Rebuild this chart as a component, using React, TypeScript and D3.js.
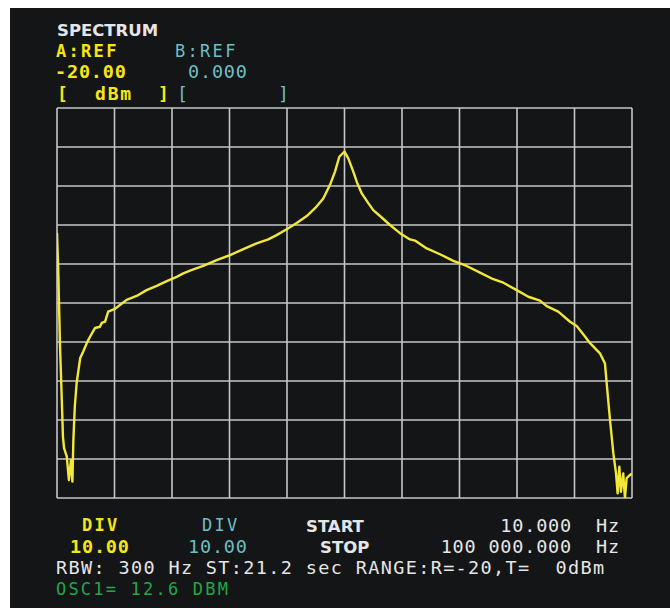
import React from "react";
import * as d3 from "d3";

// trace: frequency (Hz) and level (dBm)
const freqHz = [
  10, 10.2, 10.5, 10.8, 11.0, 11.2, 11.7, 12.1, 12.5, 12.8, 13.0, 13.3, 13.7, 14.5, 15.2, 16.1, 17.0,
  18.4, 19.9, 20.5, 21.6, 22.7, 25.3, 27.4, 30.5, 35.8, 42.0, 49.4, 58.0, 68.0, 75.6, 84.2, 104, 129,
  160, 198, 245, 295, 337, 396, 465, 546, 624, 712, 793, 859, 920, 1000, 1062, 1151, 1216, 1318, 1464,
  1585, 1766, 2073, 2432, 2856, 3091, 3732, 4616, 5711, 7079, 8764, 10840, 12740, 15780, 19010, 22910,
  25510, 30690, 37070, 41230, 47100, 51050, 59840, 64860, 66670, 70310, 74130, 77450, 79430, 81660,
  83750, 86900, 89330, 91830, 96830, 100000,
];
const levelDbm = [
  -52.0, -61.5, -81.2, -94.9, -104.3, -107.2, -109.4, -115.4, -110.3, -115.8, -105.1, -96.6, -90.5,
  -84.1, -82.5, -80.3, -78.6, -76.4, -76.1, -75.1, -74.8, -72.2, -71.5, -70.5, -69.2, -68.2, -66.7,
  -65.6, -64.4, -63.3, -62.4, -61.7, -60.5, -59.0, -57.7, -56.2, -54.7, -53.7, -52.6, -51.1, -49.5,
  -47.7, -45.7, -43.2, -39.7, -36.3, -32.5, -31.2, -32.9, -36.3, -38.9, -41.9, -44.4, -46.2, -47.7,
  -50.0, -52.1, -53.7, -54.0, -56.0, -57.5, -59.2, -60.5, -62.2, -63.9, -64.8, -66.7, -68.4, -69.4,
  -70.8, -72.2, -74.8, -75.9, -78.6, -80.3, -82.9, -85.5, -90.6, -100.0, -108.5, -113.7, -118.8,
  -112.0, -118.4, -113.7, -120.0, -114.9, -114.1, -113.7,
];

const startHz = 10;
const stopHz = 100000;
const refA = -20;
const divA = 10;
const divisions = d3.range(0, 11);

const W = 670;
const H = 608;
const plot = { left: 57, right: 632, top: 108, bottom: 498 };

const YEL = "#f6e616";
const CYN = "#6cbfc3";
const WHT = "#e6e6e6";
const GRN = "#1fa847";
const MONO = "'DejaVu Sans Mono', monospace";
const SANS = "'DejaVu Sans', sans-serif";

export default function App() {
  const x = d3.scaleLog().domain([startHz, stopHz]).range([plot.left, plot.right]);
  const y = d3
    .scaleLinear()
    .domain([refA - divA * 10, refA])
    .range([plot.bottom, plot.top]);
  const gx = d3.scaleLinear().domain([0, 10]).range([plot.left, plot.right]);
  const gy = d3.scaleLinear().domain([0, 10]).range([plot.top, plot.bottom]);

  const pts = freqHz.map((f, i) => [f, levelDbm[i]] as [number, number]);
  const line = d3
    .line<[number, number]>()
    .x((d) => x(d[0]))
    .y((d) => y(d[1]));

  const small = { fontFamily: MONO, fontSize: 17, letterSpacing: 2.3 };
  const big = { fontFamily: MONO, fontSize: 18.5, letterSpacing: 0.8 };

  return (
    <svg
      width={W}
      height={H}
      style={{ position: "absolute", left: 0, top: 0, display: "block" }}
    >
      <rect x={10} y={8} width={660} height={600} fill="#141517" />
      <defs>
        <clipPath id="plotclip">
          <rect
            x={plot.left}
            y={plot.top - 2}
            width={plot.right - plot.left}
            height={plot.bottom - plot.top + 2}
          />
        </clipPath>
      </defs>
      <g stroke="#c6c6c6" strokeWidth={1.6}>
        {divisions.map((d) => (
          <line key={"v" + d} x1={gx(d)} x2={gx(d)} y1={plot.top} y2={plot.bottom} />
        ))}
        {divisions.map((d) => (
          <line key={"h" + d} x1={plot.left} x2={plot.right} y1={gy(d)} y2={gy(d)} />
        ))}
      </g>
      <path
        d={line(pts) || ""}
        fill="none"
        stroke="#f2e83a"
        strokeWidth={2.4}
        strokeLinejoin="round"
        clipPath="url(#plotclip)"
      />

      {/* header */}
      <text x={57} y={36} fill={WHT} fontFamily={SANS} fontWeight="bold" fontSize={16.5}>
        SPECTRUM
      </text>
      <text x={56} y={57} fill={YEL} fontWeight="bold" {...small}>
        A:REF
      </text>
      <text x={175} y={57} fill={CYN} {...small}>
        B:REF
      </text>
      <text x={55} y={78} fill={YEL} fontWeight="bold" {...big}>
        {refA.toFixed(2)}
      </text>
      <text x={188} y={78} fill={CYN} {...big}>
        0.000
      </text>
      <g fontFamily={MONO} fontSize={18}>
        <text x={57} y={100} fill={YEL} fontWeight="bold">[</text>
        <text x={95} y={100} fill={YEL} fontWeight="bold" letterSpacing={1.8}>dBm</text>
        <text x={158} y={100} fill={YEL} fontWeight="bold">]</text>
        <text x={177} y={100} fill={CYN}>[</text>
        <text x={278} y={100} fill={CYN}>]</text>
      </g>

      {/* footer */}
      <text x={82} y={531} fill={YEL} fontWeight="bold" {...small}>
        DIV
      </text>
      <text x={70} y={553} fill={YEL} fontWeight="bold" {...big}>
        {divA.toFixed(2)}
      </text>
      <text x={202} y={531} fill={CYN} {...small}>
        DIV
      </text>
      <text x={188} y={553} fill={CYN} {...big}>
        10.00
      </text>
      <text x={306} y={532} fill={WHT} fontFamily={SANS} fontWeight="bold" fontSize={16.5}>
        START
      </text>
      <text x={320} y={553} fill={WHT} fontFamily={SANS} fontWeight="bold" fontSize={16.5}>
        STOP
      </text>
      <text x={572} y={532} fill={WHT} textAnchor="end" {...big}>
        10.000
      </text>
      <text x={572} y={553} fill={WHT} textAnchor="end" {...big}>
        100 000.000
      </text>
      <text x={596} y={532} fill={WHT} {...big}>
        Hz
      </text>
      <text x={596} y={553} fill={WHT} {...big}>
        Hz
      </text>
      <text
        x={56}
        y={574}
        fill={WHT}
        fontFamily={MONO}
        fontSize={18.5}
        letterSpacing={1.35}
        style={{ whiteSpace: "pre" }}
      >
        {"RBW: 300 Hz ST:21.2 sec RANGE:R=-20,T=  0dBm"}
      </text>
      <text
        x={56}
        y={595}
        fill={GRN}
        fontFamily={MONO}
        fontSize={17}
        letterSpacing={2.2}
        style={{ whiteSpace: "pre" }}
      >
        {"OSC1= 12.6 DBM"}
      </text>
    </svg>
  );
}
